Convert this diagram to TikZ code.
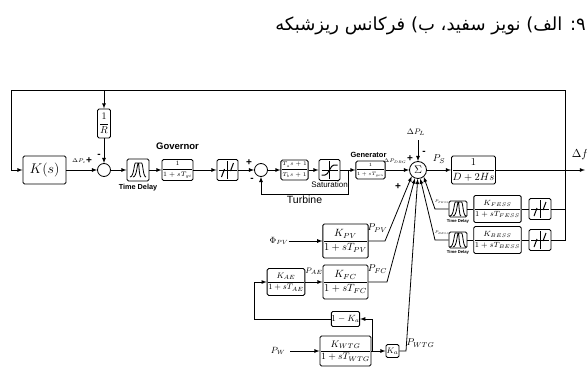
\documentclass[tikz,border=0pt]{standalone}
\usepackage{fix-cm}
\usepackage{fontspec}
\setsansfont{Liberation Sans}
\newfontfamily\arabicfont[Script=Arabic]{DejaVu Sans}
\TeXXeTstate=1
\newcommand{\fs}[1]{\fontsize{#1}{#1}\selectfont}
\newcommand{\tf}[2]{$\displaystyle\frac{#1}{#2}$}
\begin{document}
\begin{tikzpicture}[
  x=1pt, y=1pt,
  >=latex,
  block/.style 2 args={rectangle, draw, rounded corners=1.5pt, line width=.9pt, inner sep=0pt, minimum width=#1pt, minimum height=#2pt},
  circ/.style={circle, draw, thick, inner sep=0pt, minimum size=13pt},
  tag/.style={inner sep=0pt, font=\fs{8}},
  sign/.style={inner sep=0pt, font=\sffamily\bfseries\fs{10}},
  caption/.style={inner sep=0pt, font=\sffamily\bfseries\fs{#1}},
  delaybox/.style 2 args={block={#1}{#2}, path picture={
    \draw[thick, shift={(path picture bounding box.center)}, scale=#2/20]
      (-8,-7) .. controls (-4,-7) and (-4,7) .. (-1,7) .. controls (1,7) and (1,-7) .. (3,-7)
      (-5,-7) .. controls (-1,-7) and (-1,7) .. (2,7) .. controls (5,7) and (5,-7) .. (8,-7);
  }},
  deadbox/.style 2 args={block={#1}{#2}, path picture={
    \begin{scope}[shift={(path picture bounding box.center)}, scale=#2/21]
      \draw (-9,0) -- (9,0) (0,-9) -- (0,9);
      \draw[line width=1pt] (-6,-7) -- (-3,1) (3,-1) -- (6,7);
    \end{scope}
  }},
  satbox/.style 2 args={block={#1}{#2}, path picture={
    \begin{scope}[shift={(path picture bounding box.center)}]
      \draw (-8,0) -- (8,0) (0,-9) -- (0,9);
      \draw[line width=1pt] (-8,-5) -- (-3,-5) -- (3,5) -- (8,5);
    \end{scope}
  }},
]
\useasboundingbox (0,0) rectangle (587,-367);

\node[anchor=east, inner sep=0pt, font=\fs{18}] (title) at (586,-26) {\arabicfont\beginR ۹: الف) نویز سفید، ب) فرکانس ریزشبکه\endR};

% main loop
\node[block={43}{28}, font=\fs{14}] (ks) at (44.5,-170) {$K(s)$};
\node[circ, right of=ks, node distance=59.5pt] (err) {};
\node[block={13}{29}, font=\fs{10}, above of=err, node distance=46.5pt] (rbox) {\tf{1}{R}};
\node[delaybox={22}{22}, right of=err, node distance=34pt] (delay) {};
\node[block={31}{21}, font=\fs{6.5}, right of=delay, node distance=39.5pt] (gov) {\tf{1}{1+sT_{gi}}};
\node[deadbox={21}{21}, right of=gov, node distance=50pt] (dead) {};
\node[circ, right of=dead, node distance=33.5pt] (tsum) {};
\node[block={21}{20}, font=\fs{5.5}, right of=tsum, node distance=33.5pt] (lead) {\tf{T_a s+1}{T_b s+1}};
\node[satbox={21}{21}, right of=lead, node distance=35pt] (sat) {};
\node[block={25}{18}, font=\fs{4.8}, right of=sat, node distance=41pt] (gen) {\tf{1}{1+sT_{gen}}};
\node[circle, draw, thick, inner sep=0pt, minimum size=17pt, font=\fs{11}, right of=gen, node distance=47.5pt] (sum) {$\Sigma$};
\node[block={43}{28}, font=\fs{10.5}, right of=sum, node distance=55.5pt] (swing) {\tf{1}{D+2Hs}};
\coordinate[right of=swing, node distance=111.5pt] (out);
\coordinate[right of=swing, node distance=91.5pt] (tap);
\coordinate[above of=tap, node distance=80pt] (topr);
\coordinate[left of=ks, node distance=33pt] (ksin);
\coordinate[right of=sat, node distance=18.5pt] (fbk);
\coordinate[below of=tsum, node distance=24pt] (fbb);
\coordinate[above of=sum, node distance=30pt] (dpl);

% storage branches
\node[delaybox={18}{16}, below of=swing, node distance=39pt, xshift=-15.5pt] (dfess) {};
\node[block={39}{27}, font=\fs{7.5}, right of=dfess, node distance=39.5pt] (kfess) {\tf{K_{FESS}}{1+sT_{FESS}}};
\node[deadbox={22}{21}, right of=kfess, node distance=42.5pt] (dbfess) {};
\node[delaybox={18}{16}, below of=dfess, node distance=31pt] (dbess) {};
\node[block={39}{27}, font=\fs{7.5}, right of=dbess, node distance=39.5pt] (kbess) {\tf{K_{BESS}}{1+sT_{BESS}}};
\node[deadbox={22}{21}, right of=kbess, node distance=42.5pt] (dbbess) {};
\coordinate[left of=dfess, node distance=23pt] (fessin);
\coordinate[left of=dbess, node distance=23pt] (bessin);

% sources
\node[block={43}{34}, font=\fs{10.5}, below of=sat, node distance=71pt, xshift=16pt] (pv) {\tf{K_{PV}}{1+sT_{PV}}};
\node[block={43}{34}, font=\fs{10.5}, below of=pv, node distance=41pt] (fc) {\tf{K_{FC}}{1+sT_{FC}}};
\node[block={34}{27}, font=\fs{8}, left of=fc, node distance=59.5pt] (ae) {\tf{K_{AE}}{1+sT_{AE}}};
\node[block={27}{15}, font=\fs{9}, below of=fc, node distance=37pt] (oneka) {$1-K_a$};
\node[block={43}{30}, font=\fs{9.5}, below of=fc, node distance=69pt] (wtg) {\tf{K_{WTG}}{1+sT_{WTG}}};
\node[block={13}{13}, font=\fs{8}, right of=wtg, node distance=47pt] (ka) {$K_a$};
\node[tag, font=\fs{9}, left of=pv, node distance=66.5pt] (phi) {$\Phi_{PV}$};
\node[tag, font=\fs{9}, left of=wtg, node distance=67.5pt] (pw) {$P_W$};
\coordinate[right of=pv, node distance=39.5pt] (pvout);
\coordinate[right of=fc, node distance=41.5pt] (fcout);
\coordinate[right of=ka, node distance=13.5pt] (kaout);
\coordinate[left of=ae, node distance=32pt] (aein);
\coordinate[right of=wtg, node distance=26.5pt] (wtgtap);

\draw[->,thick] (topr) -| (ksin) -- (ks);
\draw[->,thick] (rbox |- topr) -- (rbox);
\draw[->,thick] (rbox) -- (err);
\draw[->,thick] (ks) -- (err);
\draw[->,thick] (err) -- (delay);
\draw[->,thick] (delay) -- (gov);
\draw[->,thick] (gov) -- (dead);
\draw[->,thick] (dead) -- (tsum);
\draw[->,thick] (tsum) -- (lead);
\draw[->,thick] (lead) -- (sat);
\draw[->,thick] (sat) -- (gen);
\draw[->,thick] (gen) -- (sum);
\draw[->,thick] (sum) -- (swing);
\draw[->,thick] (swing) -- (out);
\draw[->,thick] (fbk) |- (fbb) -- (tsum);
\draw[->,thick] (dpl) -- (sum);
\draw[thick] (topr) -- (tap |- dbbess) -- (dbbess);
\draw[thick] (dbfess) -- (tap |- dbfess);
\draw[thick] (dbfess) -- (kfess);
\draw[thick] (kfess) -- (dfess);
\draw[thick] (dbbess) -- (kbess);
\draw[thick] (kbess) -- (dbess);
\draw[->,thick] (dfess) -- (fessin) -- (sum.310);
\draw[->,thick] (dbess) -- (bessin) -- (sum.285);
\draw[->,thick] (pv) -- (pvout) -- (sum.225);
\draw[->,thick] (fc) -- (fcout) -- (sum.250);
\draw[->,thick] (ka) -- (kaout) -- (sum.268);
\draw[->,thick] (phi) -- (pv);
\draw[->,thick,shorten <=5pt] (pw) -- (wtg);
\draw[->,thick] (ae) -- (fc);
\draw[->,thick] (oneka) -| (aein) -- (ae);
\draw[->,thick] (wtg) -- (ka);
\draw[->,thick] (wtgtap) |- (oneka);

% labels
\node[tag, right of=ks, node distance=34.5pt, yshift=9pt, font=\fs{5.5}] (dpc) {$\Delta P_c$};
\node[sign, right of=ks, node distance=44.5pt, yshift=9pt] (plus1) {+};
\node[sign, above of=err, node distance=14pt, xshift=-5pt] (minus1) {-};
\node[caption=7.3, below of=delay, node distance=18pt] (tdelay) {Time Delay};
\node[caption=9.5, above of=gov, node distance=24pt] (govlabel) {Governor};
\node[sign, above of=tsum, node distance=7pt, xshift=-12pt] (plus2) {+};
\node[sign, below of=tsum, node distance=10pt, xshift=-9pt] (minus2) {-};
\node[tag, below of=sat, node distance=15pt, font=\sffamily\fs{8}] (satlabel) {Saturation};
\node[tag, below of=lead, node distance=30pt, xshift=10pt, font=\sffamily\fs{10.5}] (turbine) {Turbine};
\node[caption=7.5, above of=gen, node distance=15pt, xshift=-2pt] (genlabel) {Generator};
\node[tag, left of=sum, node distance=23pt, yshift=9pt, font=\fs{5.2}] (dpdrg) {$\Delta P_{DRG}$};
\node[sign, left of=sum, node distance=8pt, yshift=11pt] (plus3) {+};
\node[sign, above of=sum, node distance=17pt, xshift=6pt] (minus3) {-};
\node[sign, left of=sum, node distance=20pt, yshift=-17pt] (plus4) {+};
\node[tag, above of=dpl, node distance=8pt, xshift=-2pt, font=\fs{8}] (dpllabel) {$\Delta P_L$};
\node[tag, right of=sum, node distance=21pt, yshift=11pt, font=\fs{10}] (pslabel) {$P_S$};
\node[tag, above of=out, node distance=15pt, xshift=-5pt, font=\fs{11.5}] (dflabel) {$\Delta f$};
\node[tag, left of=dfess, node distance=16pt, yshift=7pt, font=\fs{3.8}] (pfess) {$P_{FESS}$};
\node[tag, left of=dbess, node distance=16pt, yshift=7pt, font=\fs{3.8}] (pbess) {$P_{BESS}$};
\node[caption=4.2, below of=dfess, node distance=12pt] (tdfess) {Time Delay};
\node[caption=4.2, below of=dbess, node distance=12pt] (tdbess) {Time Delay};
\node[tag, right of=pv, node distance=32pt, yshift=13pt, font=\fs{10}] (pvlabel) {$P_{PV}$};
\node[tag, right of=fc, node distance=32pt, yshift=13pt, font=\fs{10}] (fclabel) {$P_{FC}$};
\node[tag, left of=fc, node distance=31.5pt, yshift=11pt, font=\fs{8}] (aelabel) {$P_{AE}$};
\node[tag, right of=ka, node distance=28pt, yshift=8pt, font=\fs{10}] (wtglabel) {$P_{WTG}$};
\end{tikzpicture}
\end{document}
